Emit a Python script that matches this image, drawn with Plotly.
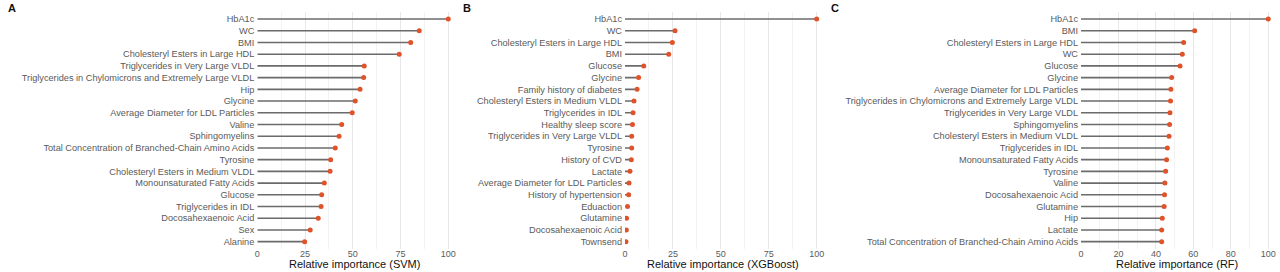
import plotly.graph_objects as go

# ---- data ----
svm_features = ["HbA1c", "WC", "BMI", "Cholesteryl Esters in Large HDL",
                "Triglycerides in Very Large VLDL",
                "Triglycerides in Chylomicrons and Extremely Large VLDL",
                "Hip", "Glycine", "Average Diameter for LDL Particles", "Valine",
                "Sphingomyelins", "Total Concentration of Branched-Chain Amino Acids",
                "Tyrosine", "Cholesteryl Esters in Medium VLDL",
                "Monounsaturated Fatty Acids", "Glucose", "Triglycerides in IDL",
                "Docosahexaenoic Acid", "Sex", "Alanine"]
svm_values = [100, 84.8, 80.3, 74.3, 56.0, 55.7, 53.8, 51.3, 49.7, 44.2,
              42.8, 40.8, 38.4, 38.1, 35.1, 33.7, 33.4, 31.9, 27.7, 24.8]

xgb_features = ["HbA1c", "WC", "Cholesteryl Esters in Large HDL", "BMI", "Glucose",
                "Glycine", "Family history of diabetes",
                "Cholesteryl Esters in Medium VLDL", "Triglycerides in IDL",
                "Healthy sleep score", "Triglycerides in Very Large VLDL", "Tyrosine",
                "History of CVD", "Lactate", "Average Diameter for LDL Particles",
                "History of hypertension", "Eduaction", "Glutamine",
                "Docosahexaenoic Acid", "Townsend"]
xgb_values = [100, 26.1, 24.7, 22.8, 9.8, 7.1, 6.3, 4.7, 4.2, 3.9,
              3.5, 3.5, 3.3, 2.6, 2.1, 1.9, 1.3, 0.8, 0.7, 0.5]

rf_features = ["HbA1c", "BMI", "Cholesteryl Esters in Large HDL", "WC", "Glucose",
               "Glycine", "Average Diameter for LDL Particles",
               "Triglycerides in Chylomicrons and Extremely Large VLDL",
               "Triglycerides in Very Large VLDL", "Sphingomyelins",
               "Cholesteryl Esters in Medium VLDL", "Triglycerides in IDL",
               "Monounsaturated Fatty Acids", "Tyrosine", "Valine",
               "Docosahexaenoic Acid", "Glutamine", "Hip", "Lactate",
               "Total Concentration of Branched-Chain Amino Acids"]
rf_values = [100, 60.7, 54.8, 54.1, 52.9, 48.4, 48.0, 47.8, 47.5, 47.3,
             47.0, 46.1, 45.7, 45.2, 44.8, 44.6, 44.4, 43.4, 43.1, 43.1]

panels = [
    ("A", svm_features, svm_values, "Relative importance (SVM)", [0, 25, 50, 75, 100], 12.5),
    ("B", xgb_features, xgb_values, "Relative importance (XGBoost)", [0, 25, 50, 75, 100], 12.5),
    ("C", rf_features, rf_values, "Relative importance (RF)", [0, 20, 40, 60, 80, 100], 10),
]

W, H = 1280, 272
# plot-area pixel extents (left, right) for each panel
x_px = [(257.3, 452.1), (625.0, 820.5), (1081.0, 1272.0)]
letter_px = [6, 461, 829]
y_top, y_bot = 12.0, 248.7
title_y = 263.5

SEG = "#6b6b6b"
DOT = "#E0522A"
GRID = "#E8E8E8"
FONT = "Liberation Sans"

fig = go.Figure()
for i, (letter, feats, vals, title, ticks, minor) in enumerate(panels):
    xa = "x" if i == 0 else f"x{i+1}"
    ya = "y" if i == 0 else f"y{i+1}"
    sx, sy = [], []
    for f, v in zip(feats, vals):
        sx += [0, v, None]
        sy += [f, f, None]
    fig.add_trace(go.Scatter(x=sx, y=sy, mode="lines", xaxis=xa, yaxis=ya,
                             line=dict(color=SEG, width=1.6), hoverinfo="skip",
                             showlegend=False))
    fig.add_trace(go.Scatter(x=vals, y=feats, mode="markers", xaxis=xa, yaxis=ya,
                             marker=dict(color=DOT, size=5), showlegend=False))
    l, r = x_px[i]
    xkey = "xaxis" if i == 0 else f"xaxis{i+1}"
    ykey = "yaxis" if i == 0 else f"yaxis{i+1}"
    fig.update_layout(**{
        xkey: dict(domain=[l / W, r / W], range=[0, 102], anchor=ya,
                   tickvals=ticks, showgrid=True, gridcolor=GRID, gridwidth=1,
                   minor=dict(dtick=minor, tick0=0, showgrid=True, gridcolor="#F2F2F2"),
                   zeroline=False, showline=False, ticks="",
                   ticklabelstandoff=-2,
                   tickfont=dict(size=9, color="#5a5a5a", family=FONT),
                   automargin=False, fixedrange=True),
        ykey: dict(domain=[1 - y_bot / H, 1 - y_top / H], anchor=xa,
                   type="category", categoryorder="array",
                   categoryarray=list(reversed(feats)),
                   range=[-0.6, len(feats) - 0.4],
                   showgrid=False, zeroline=False, showline=False, ticks="",
                   ticklabelstandoff=2,
                   tickfont=dict(size=9.2, color="#5a5a5a", family=FONT),
                   automargin=False, fixedrange=True),
    })
    # axis title (x position follows the axis domain)
    fig.add_annotation(text=title, x=(l + r) / 2 / W, y=1 - title_y / H,
                       xref="paper", yref="paper", xanchor="center", yanchor="middle",
                       showarrow=False, font=dict(size=11, color="#111111", family=FONT))
    fig.add_annotation(text=f"<b>{letter}</b>", x=letter_px[i] / W, y=1 - 8 / H,
                       xref="paper", yref="paper", xanchor="left", yanchor="middle",
                       showarrow=False, font=dict(size=11, color="#111111", family=FONT))

fig.update_layout(width=W, height=H, margin=dict(l=0, r=0, t=0, b=0),
                  paper_bgcolor="white", plot_bgcolor="white",
                  font=dict(family=FONT))
fig.write_html("out.html", config={"displayModeBar": False},
               post_script="document.body.style.margin='0';document.body.style.overflow='hidden';")
